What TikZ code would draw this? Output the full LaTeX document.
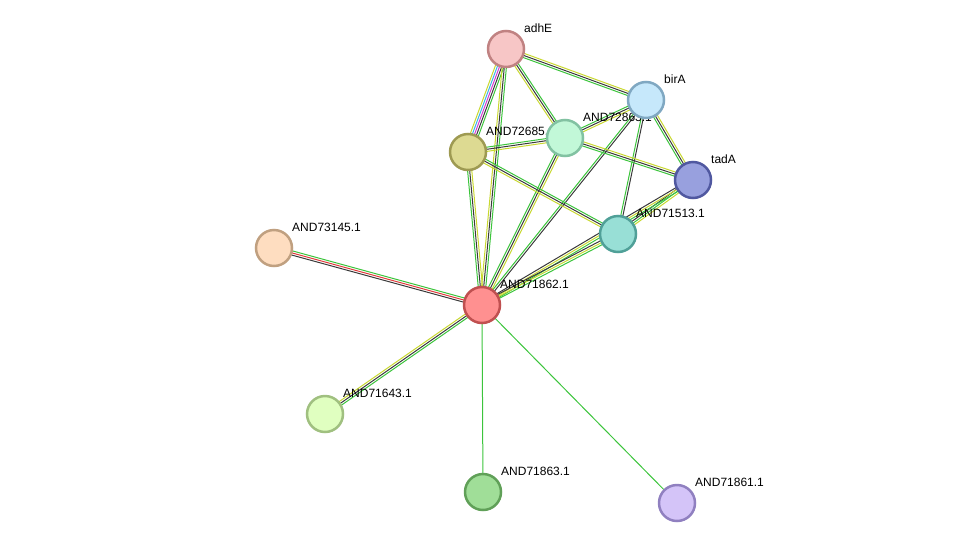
\documentclass[tikz,border=0pt]{standalone}
\usepackage{fontspec}
\setmainfont{Liberation Sans}
\usetikzlibrary{calc}
\definecolor{eg}{HTML}{3CC43C}
\definecolor{ek}{HTML}{3A3A3A}
\definecolor{ey}{HTML}{C8D830}
\definecolor{er}{HTML}{E03A3A}
\definecolor{em}{HTML}{D43CD4}
\definecolor{ec}{HTML}{3CB4E6}
\newcommand\medge[3]{%
  \foreach \cc [count=\i] in {#3}{%
    \pgfmathsetmacro\off{(\i-1)*2.1}%
    \xdef\offl{\off}%
  }%
  \pgfmathsetmacro\half{\offl/2}%
  \foreach \cc [count=\i] in {#3}{%
    \pgfmathsetmacro\d{(\i-1)*2.1-\half}%
    \draw[draw=e\cc,line width=1pt] ($(#1)!\d pt!90:(#2)$) -- ($(#2)!\d pt!-90:(#1)$);
  }%
}
\tikzset{
  nd/.style n args={2}{circle,minimum size=36pt,inner sep=0pt,line width=2.5pt,
    /utils/exec={\definecolor{nfill}{HTML}{#1}\definecolor{ndraw}{HTML}{#2}},fill=nfill,draw=ndraw},
  lb/.style={anchor=west,font=\fontsize{12}{12}\selectfont,inner sep=0pt}
}
\begin{document}
\begin{tikzpicture}[x=1pt,y=-1pt]
\useasboundingbox (0,0) rectangle (976,549);
\coordinate (adhE) at (506,49);
\coordinate (birA) at (646,100);
\coordinate (p86) at (565,138);
\coordinate (p85) at (468,152);
\coordinate (tadA) at (693,180);
\coordinate (p13) at (618,234);
\coordinate (p45) at (274,248);
\coordinate (p62) at (482,305);
\coordinate (p43) at (325,414);
\coordinate (p63) at (483,492);
\coordinate (p61) at (677,503);
\medge{adhE}{birA}{g,k,y}
\medge{adhE}{p86}{y,k,g}
\medge{adhE}{p85}{y,c,m,k,g}
\medge{adhE}{p62}{y,k,g}
\medge{birA}{p86}{g,k,y}
\medge{birA}{tadA}{g,k,y}
\medge{birA}{p13}{g,k}
\medge{birA}{p62}{g,k}
\medge{p86}{p85}{g,k,y}
\medge{p86}{tadA}{g,k,y}
\medge{p86}{p62}{g,k,y}
\medge{p85}{p13}{y,k,g}
\medge{p85}{p62}{g,k,y}
\medge{tadA}{p13}{k,g,y}
\medge{tadA}{p62}{k,y,g}
\medge{p13}{p62}{k,y,g}
\medge{p45}{p62}{k,r,g}
\medge{p43}{p62}{g,k,y}
\medge{p63}{p62}{g}
\medge{p61}{p62}{g}
\foreach \n/\t in {adhE/adhE,birA/birA,p86/AND72863.1,p85/AND72685.1,tadA/tadA,p13/AND71513.1,p45/AND73145.1,p62/AND71862.1,p43/AND71643.1,p63/AND71863.1,p61/AND71861.1}
  \node[lb] (l\n) at ($(\n)+(18,-21)$) {\t};
\node[nd={F7C6C6}{C08282}] (nadhE) at (adhE) {};
\node[nd={C6E8FB}{80A8C2}] (nbirA) at (birA) {};
\node[nd={C2F8D8}{82C2A2}] (np86) at (p86) {};
\node[nd={DDDA92}{9E9A52}] (np85) at (p85) {};
\node[nd={98A0DE}{5058A0}] (ntadA) at (tadA) {};
\node[nd={98DFD6}{50A098}] (np13) at (p13) {};
\node[nd={FEDDC0}{C0A080}] (np45) at (p45) {};
\node[nd={FF9090}{C05050}] (np62) at (p62) {};
\node[nd={E0FFC0}{A0C080}] (np43) at (p43) {};
\node[nd={A0DE98}{60A058}] (np63) at (p63) {};
\node[nd={D4C4F8}{9080C0}] (np61) at (p61) {};
\end{tikzpicture}
\end{document}
